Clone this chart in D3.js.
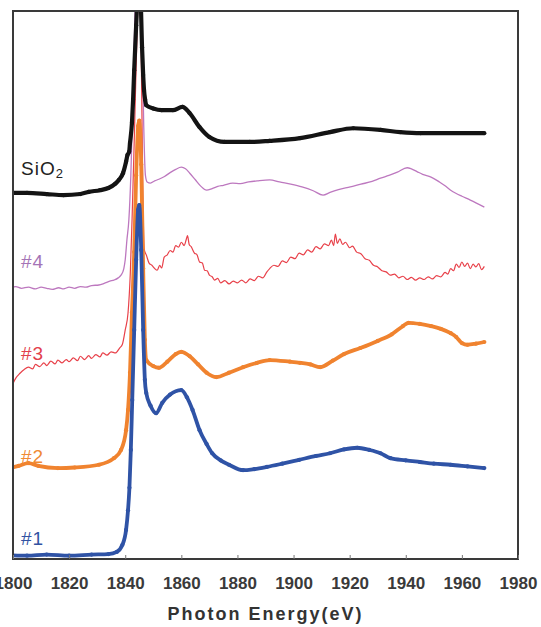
<!DOCTYPE html>
<html>
<head>
<meta charset="utf-8">
<script src="https://cdn.jsdelivr.net/npm/d3@7"></script>
<style>
  html, body { margin: 0; padding: 0; background: #fff; }
  svg { display: block; }
</style>
</head>
<body>
<svg id="chart" width="541" height="627"></svg>
<script>
// Si K-edge XANES spectra, vertically offset (arbitrary units)
const energyTicks = [1800, 1820, 1840, 1860, 1880, 1900, 1920, 1940, 1960, 1980];
const axisTitle = "Photon Energy(eV)";

const seriesNames = ["#1", "#2", "#3", "#4", "SiO2"];

// sample #1 : [eV, intensity]
const sample1 = [[1799,0.07],[1805,0.06],[1812,0.08],[1820,0.06],[1828,0.08],[1834,0.09],[1837,0.13],[1839,0.26],
  [1840.3,0.53],[1841,0.89],[1841.5,1.30],[1842,1.99],[1842.5,2.90],[1843.2,4.18],[1843.9,5.46],[1844.6,6.37],
  [1845,6.46],[1845.7,5.64],[1846.4,4.18],[1847,3.27],[1847.5,3.03],[1849,2.80],[1851,2.66],[1853.2,2.85],
  [1856,3.00],[1860,3.08],[1862,2.95],[1864,2.72],[1866.5,2.35],[1869,2.10],[1871,1.93],[1874,1.80],[1877,1.72],
  [1882,1.62],[1886,1.64],[1890.5,1.68],[1896,1.74],[1902,1.81],[1908,1.88],[1913,1.93],[1918,2.00],[1922.7,2.03],
  [1927,1.99],[1931,1.93],[1934.5,1.84],[1940,1.80],[1945,1.77],[1950,1.74],[1956,1.72],[1962,1.69],[1968,1.66]];

// sample #2
const sample2 = [[1799,1.66],[1802,1.70],[1805.5,1.75],[1809,1.70],[1816,1.66],[1822,1.67],[1830.6,1.72],[1836,1.84],
  [1838.5,1.99],[1840.3,2.35],[1841,2.72],[1841.7,3.40],[1842.4,4.50],[1843.2,5.60],[1843.9,7.00],[1844.6,7.90],
  [1845,8.00],[1845.7,7.20],[1846.4,5.30],[1847,4.00],[1847.5,3.63],[1850,3.52],[1852,3.49],[1855,3.60],[1858,3.74],
  [1860,3.78],[1863,3.70],[1866,3.55],[1869,3.40],[1872.5,3.32],[1877,3.40],[1882,3.50],[1887,3.58],[1891.5,3.63],
  [1898.7,3.60],[1902.3,3.58],[1906,3.55],[1909.5,3.50],[1914,3.62],[1918,3.74],[1923.8,3.85],[1930,3.98],[1935,4.10],
  [1939,4.25],[1941,4.31],[1945,4.29],[1949,4.25],[1952.5,4.20],[1956,4.12],[1958,4.05],[1960,3.94],[1962,3.91],
  [1965,3.93],[1968,3.96]];

// sample #3
const sample3 = [[1799,3.03],[1800,3.20],[1801,3.30],[1802.5,3.39],[1804,3.46],[1805.5,3.50],[1807,3.47],[1808,3.55],
  [1809.5,3.51],[1811,3.58],[1812,3.53],[1813.5,3.61],[1815,3.56],[1816,3.63],[1817.5,3.58],[1819,3.64],[1820,3.60],
  [1821.5,3.67],[1823,3.62],[1824,3.70],[1825.5,3.64],[1827,3.71],[1828,3.66],[1829.5,3.73],[1831,3.69],[1832,3.76],
  [1833.5,3.72],[1835,3.78],[1836.5,3.76],[1838,3.85],[1839,3.92],[1840,4.18],[1841,4.49],[1841.8,5.20],[1842.5,6.30],
  [1843.3,7.80],[1844,9.20],[1844.8,10.30],[1845.4,10.30],[1845.9,8.40],[1846.3,6.60],[1846.8,5.64],[1847.5,5.55],
  [1848.5,5.40],[1849.5,5.36],[1850.5,5.30],[1851.4,5.27],[1852.3,5.36],[1853,5.31],[1853.9,5.51],[1855,5.55],
  [1856,5.63],[1857,5.60],[1858,5.72],[1859,5.69],[1860,5.78],[1861,5.72],[1861.7,5.82],[1862.2,5.90],[1862.8,5.74],
  [1863.5,5.70],[1864.7,5.58],[1865.5,5.56],[1866.5,5.42],[1867.5,5.40],[1868.3,5.27],[1869.2,5.26],[1870,5.18],
  [1871,5.15],[1871.8,5.09],[1873,5.12],[1874,5.04],[1875.5,5.08],[1877,5.02],[1878.5,5.07],[1880,5.04],[1881.5,5.09],
  [1883,5.04],[1884.5,5.11],[1886,5.08],[1887.5,5.16],[1889,5.13],[1890.5,5.24],[1891.5,5.30],[1893,5.36],[1894.5,5.34],
  [1896,5.44],[1897.5,5.41],[1899,5.51],[1900.5,5.48],[1902,5.58],[1903.5,5.55],[1905,5.64],[1906.5,5.60],[1908,5.70],
  [1909.5,5.66],[1911,5.75],[1912.5,5.72],[1913.5,5.82],[1914.3,5.72],[1914.9,5.93],[1915.6,5.76],[1916.5,5.84],
  [1917.5,5.74],[1918.5,5.78],[1920,5.68],[1921,5.71],[1922.5,5.60],[1924,5.57],[1925.5,5.48],[1927,5.45],[1928.5,5.36],
  [1930,5.33],[1931.5,5.26],[1933,5.24],[1934.5,5.18],[1936,5.20],[1937.5,5.13],[1939,5.16],[1940.5,5.10],[1942,5.14],
  [1943.5,5.09],[1945,5.13],[1946.5,5.10],[1948,5.15],[1949.5,5.11],[1951,5.17],[1952.5,5.15],[1954,5.23],[1955,5.20],
  [1956,5.30],[1957,5.26],[1958,5.38],[1959,5.32],[1960,5.42],[1961,5.34],[1962,5.40],[1963,5.30],[1964,5.38],
  [1965,5.33],[1966,5.39],[1967,5.28],[1968,5.34]];

// sample #4
const sample4 = [[1799,4.95],[1801,4.97],[1803,4.94],[1805.5,4.96],[1808,4.93],[1810,4.96],[1812,4.94],[1814,4.92],
  [1816.3,4.95],[1818,4.93],[1820,4.96],[1822,4.94],[1824,4.97],[1826,4.96],[1828,4.99],[1830.6,5.00],[1832.5,5.03],
  [1834.5,5.07],[1836,5.09],[1837.5,5.13],[1838.5,5.18],[1839.5,5.30],[1840,5.46],[1840.6,5.82],[1841.3,6.19],
  [1842,7.00],[1842.8,8.50],[1843.6,10.20],[1844.4,11.20],[1845.2,11.20],[1846,9.60],[1846.6,7.90],[1847.2,7.00],
  [1847.8,6.88],[1849,6.86],[1850.5,6.90],[1852,6.93],[1854,6.98],[1856,7.05],[1858,7.11],[1860,7.15],[1861.5,7.12],
  [1863,7.04],[1865,6.92],[1867,6.80],[1869,6.73],[1871,6.76],[1873,6.80],[1875,6.82],[1878.3,6.86],[1881,6.85],
  [1884,6.88],[1887,6.90],[1891.5,6.92],[1895,6.88],[1899,6.84],[1903,6.79],[1907,6.72],[1910.5,6.64],[1913,6.69],
  [1916,6.74],[1920.2,6.79],[1924,6.84],[1928,6.89],[1931,6.95],[1934,7.00],[1937,7.06],[1940.5,7.14],[1942,7.12],
  [1944,7.07],[1946,7.02],[1949,6.97],[1952,6.88],[1954,6.81],[1956,6.73],[1958,6.67],[1960,6.62],[1963,6.55],
  [1965,6.50],[1968,6.42]];

// SiO2 reference
const sio2 = [[1799,6.68],[1805,6.68],[1812,6.66],[1818,6.64],[1824,6.66],[1827,6.70],[1831,6.73],[1834,6.77],
  [1836.5,6.85],[1837.8,6.92],[1839.2,7.04],[1840.3,7.25],[1840.8,7.37],[1841.4,7.43],[1841.7,7.59],[1842.4,7.96],
  [1842.8,8.38],[1843.2,8.92],[1843.9,9.74],[1844.6,10.40],[1845.3,10.40],[1846,9.34],[1846.4,8.83],[1846.7,8.56],
  [1847.1,8.38],[1847.5,8.28],[1850,8.22],[1853,8.19],[1857,8.19],[1860.4,8.25],[1862.9,8.14],[1866.5,7.88],
  [1870,7.70],[1875.4,7.61],[1884.4,7.61],[1891.5,7.63],[1902.3,7.68],[1913,7.79],[1921.3,7.86],[1931,7.83],
  [1938,7.79],[1945.3,7.77],[1968,7.77]];

const svg = d3.select("#chart");
const frame = { left: 13, right: 518, top: 11, bottom: 559 };

const x = d3.scaleLinear().domain([1800, 1980]).range([frame.left, frame.right]);
const y = d3.scaleLinear().domain([0, 10]).range([frame.bottom, frame.top]);

svg.append("defs").append("clipPath").attr("id", "plot-clip")
  .append("rect")
  .attr("x", frame.left).attr("y", frame.top)
  .attr("width", frame.right - frame.left).attr("height", frame.bottom - frame.top);

const line = d3.line().curve(d3.curveMonotoneX).x(d => x(d[0])).y(d => y(d[1]));

// drawing styles for each trace (back to front)
const traces = [
  { data: sample4, color: "#bd78bf", width: 1.3, dots: false },
  { data: sample3, color: "#e8414a", width: 1.2, dots: false },
  { data: sample2, color: "#f0832f", width: 3.8, dots: true },
  { data: sample1, color: "#2f53a6", width: 3.8, dots: true },
  { data: sio2,    color: "#141414", width: 4.2, dots: true }
];

const plot = svg.append("g").attr("clip-path", "url(#plot-clip)");

traces.forEach(t => {
  plot.append("path")
    .datum(t.data)
    .attr("fill", "none")
    .attr("stroke", t.color)
    .attr("stroke-width", t.width)
    .attr("stroke-linejoin", "round")
    .attr("d", line);
  if (t.dots) {
    plot.append("g").selectAll("circle")
      .data(t.data)
      .join("circle")
      .attr("cx", d => x(d[0]))
      .attr("cy", d => y(d[1]))
      .attr("r", 2.1)
      .attr("fill", t.color);
  }
});

// frame
svg.append("rect")
  .attr("x", frame.left).attr("y", frame.top)
  .attr("width", frame.right - frame.left).attr("height", frame.bottom - frame.top)
  .attr("fill", "none")
  .attr("stroke", "#3a3a3a")
  .attr("stroke-width", 2);

// bottom axis with inward ticks
const axis = d3.axisBottom(x)
  .tickValues(energyTicks)
  .tickFormat(d3.format("d"))
  .tickSizeInner(-4)
  .tickSizeOuter(0)
  .tickPadding(18);

const gx = svg.append("g")
  .attr("transform", `translate(0,${frame.bottom})`)
  .call(axis);
gx.select(".domain").remove();
gx.selectAll(".tick line").attr("stroke", "#777").attr("stroke-width", 1);
gx.selectAll(".tick text")
  .attr("fill", "#3a3a3a")
  .style("font-family", "'Liberation Sans', Arial, sans-serif")
  .style("font-size", "17px")
  .style("font-weight", "bold");

svg.append("text")
  .attr("x", (frame.left + frame.right) / 2)
  .attr("y", 620)
  .attr("text-anchor", "middle")
  .attr("fill", "#333")
  .style("font-family", "'Liberation Sans', Arial, sans-serif")
  .style("font-size", "18px")
  .style("font-weight", "bold")
  .style("letter-spacing", "2px")
  .text(axisTitle);

// series labels
const labelColors = ["#3152a2", "#f08a33", "#e2404c", "#a574b6", "#222222"];
const labelBaselines = [545, 463, 360, 268, 175];

seriesNames.forEach((name, i) => {
  const t = svg.append("text")
    .attr("x", 21)
    .attr("y", labelBaselines[i])
    .attr("fill", labelColors[i])
    .style("font-family", "'Liberation Sans', Arial, sans-serif")
    .style("font-size", "19px")
    .style("letter-spacing", "1px");
  const m = name.match(/^([A-Za-z]+)(\d)$/);
  if (m) {
    t.append("tspan").text(m[1]);
    t.append("tspan").attr("dy", 3).style("font-size", "13px").text(m[2]);
  } else {
    t.text(name);
  }
});
</script>
</body>
</html>
